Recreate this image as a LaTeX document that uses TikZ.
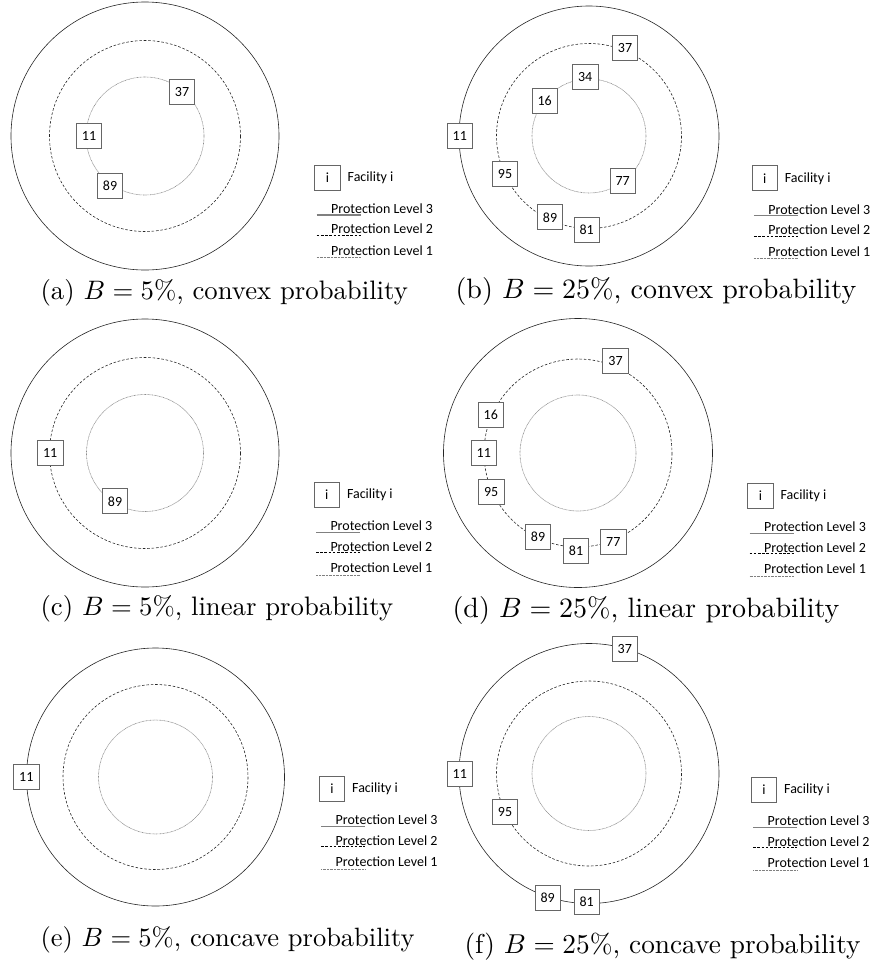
\documentclass[tikz,border=0pt]{standalone}
\usepackage{fontspec}
\newfontfamily\carlito{Carlito}
\begin{document}
\begin{tikzpicture}[x=1pt,y=-1pt,
  fac/.style={draw=black!60,fill=white,line width=0.8pt,minimum width=25.5pt,minimum height=25pt,inner sep=0pt,font=\carlito\fontsize{14}{15}\selectfont},
  ring3/.style={draw=black!85,line width=0.6pt},
  ring2/.style={draw=black!85,line width=0.6pt,dash pattern=on 2.6pt off 1.8pt},
  ring1/.style={draw=black!45,line width=0.6pt,dash pattern=on 0.8pt off 0.6pt},
  legtxt/.style={anchor=west,inner sep=0pt,font=\carlito\fontsize{14}{15}\selectfont},
  lg3/.style={draw=black!50,line width=1.1pt},
  lg2/.style={draw=black,line width=0.6pt,dash pattern=on 2.6pt off 1.6pt},
  lg1/.style={draw=black!50,line width=0.6pt,dash pattern=on 0.8pt off 0.6pt},
  captxt/.style={anchor=base west,inner sep=0pt,font=\fontsize{10}{12}\selectfont}
]
\useasboundingbox (0,0) rectangle (872,967);

\newcommand{\mylegend}[3]{%
  \node[fac] (#3i) at (#1,#2) {i};
  \node[legtxt] (#3f) at (#1+20,#2) {Facility i};
  \node[legtxt] (#3t3) at (#1+3.5,#2+31) {Protection Level 3};
  \node[legtxt] (#3t2) at (#1+3.5,#2+51.5) {Protection Level 2};
  \node[legtxt] (#3t1) at (#1+3.5,#2+73) {Protection Level 1};
  \coordinate (#3a3) at (#1-10.8,#2+37.5);
  \coordinate (#3b3) at (#1+33.2,#2+37.5);
  \coordinate (#3a2) at (#1-10.8,#2+57.5);
  \coordinate (#3b2) at (#1+33.2,#2+57.5);
  \coordinate (#3a1) at (#1-10.8,#2+80);
  \coordinate (#3b1) at (#1+33.2,#2+80);
  \draw[lg3] (#3a3) -- (#3b3);
  \draw[lg2] (#3a2) -- (#3b2);
  \draw[lg1] (#3a1) -- (#3b1);
}

% ---------- (a) ----------
\coordinate (ca) at (145,136);
\draw[ring3] (ca) circle[radius=134];
\draw[ring2] (ca) circle[radius=95.5];
\draw[ring1] (ca) circle[radius=59];
\node[fac] (a37) at (182,91.7) {37};
\node[fac] (a11) at (89,136) {11};
\node[fac] (a89) at (110,185.7) {89};
\mylegend{327.5}{177.5}{la}
\node[captxt,scale=2.67] (capa) at (40,299) {(a) $B=5\%$, convex probability};

% ---------- (b) ----------
\coordinate (cb) at (589,136);
\draw[ring3] (cb) circle[radius=130];
\draw[ring2] (cb) circle[radius=92.5];
\draw[ring1] (cb) circle[radius=57];
\node[fac] (b37) at (625,47.7) {37};
\node[fac] (b34) at (585.2,77.3) {34};
\node[fac] (b16) at (544.7,101) {16};
\node[fac] (b11) at (459.8,136) {11};
\node[fac] (b95) at (505,173.8) {95};
\node[fac] (b77) at (622.7,180.7) {77};
\node[fac] (b89) at (550,217.3) {89};
\node[fac] (b81) at (586.7,229.8) {81};
\mylegend{764.7}{178.3}{lb}
\node[captxt,scale=2.8] (capb) at (455,298) {(b) $B=25\%$, convex probability};

% ---------- (c) ----------
\coordinate (cc) at (145,453);
\draw[ring3] (cc) circle[radius=134];
\draw[ring2] (cc) circle[radius=95.5];
\draw[ring1] (cc) circle[radius=58.5];
\node[fac] (c11) at (50.2,452.7) {11};
\node[fac] (c89) at (115,501.3) {89};
\mylegend{326.8}{495}{lc}
\node[captxt,scale=2.67] (capc) at (40,615) {(c) $B=5\%$, linear probability};

% ---------- (d) ----------
\coordinate (cd) at (578,453);
\draw[ring3] (cd) circle[radius=134.5];
\draw[ring2] (cd) circle[radius=94];
\draw[ring1] (cd) circle[radius=58];
\node[fac] (d37) at (615.5,361.3) {37};
\node[fac] (d16) at (490.8,415.3) {16};
\node[fac] (d11) at (483.8,453) {11};
\node[fac] (d95) at (491.2,492.2) {95};
\node[fac] (d89) at (538,537.2) {89};
\node[fac] (d81) at (576,550.5) {81};
\node[fac] (d77) at (613.3,542.2) {77};
\mylegend{760.4}{496}{ld}
\node[captxt,scale=2.8] (capd) at (452,617) {(d) $B=25\%$, linear probability};

% ---------- (e) ----------
\coordinate (ce) at (155.5,777);
\draw[ring3] (ce) circle[radius=129];
\draw[ring2] (ce) circle[radius=92.5];
\draw[ring1] (ce) circle[radius=57];
\node[fac] (e11) at (26.3,777.2) {11};
\mylegend{332}{789}{le}
\node[captxt,scale=2.65] (cape) at (40,946) {(e) $B=5\%$, concave probability};

% ---------- (f) ----------
\coordinate (cf) at (589,773.5);
\draw[ring3] (cf) circle[radius=130];
\draw[ring2] (cf) circle[radius=92.5];
\draw[ring1] (cf) circle[radius=57];
\node[fac] (f37) at (624.8,648.8) {37};
\node[fac] (f11) at (459.8,773.8) {11};
\node[fac] (f95) at (505,811.5) {95};
\node[fac] (f89) at (547.7,898) {89};
\node[fac] (f81) at (586.7,902) {81};
\mylegend{764}{790}{lf}
\node[captxt,scale=2.73] (capf) at (464,953) {(f) $B=25\%$, concave probability};
\end{tikzpicture}
\end{document}
